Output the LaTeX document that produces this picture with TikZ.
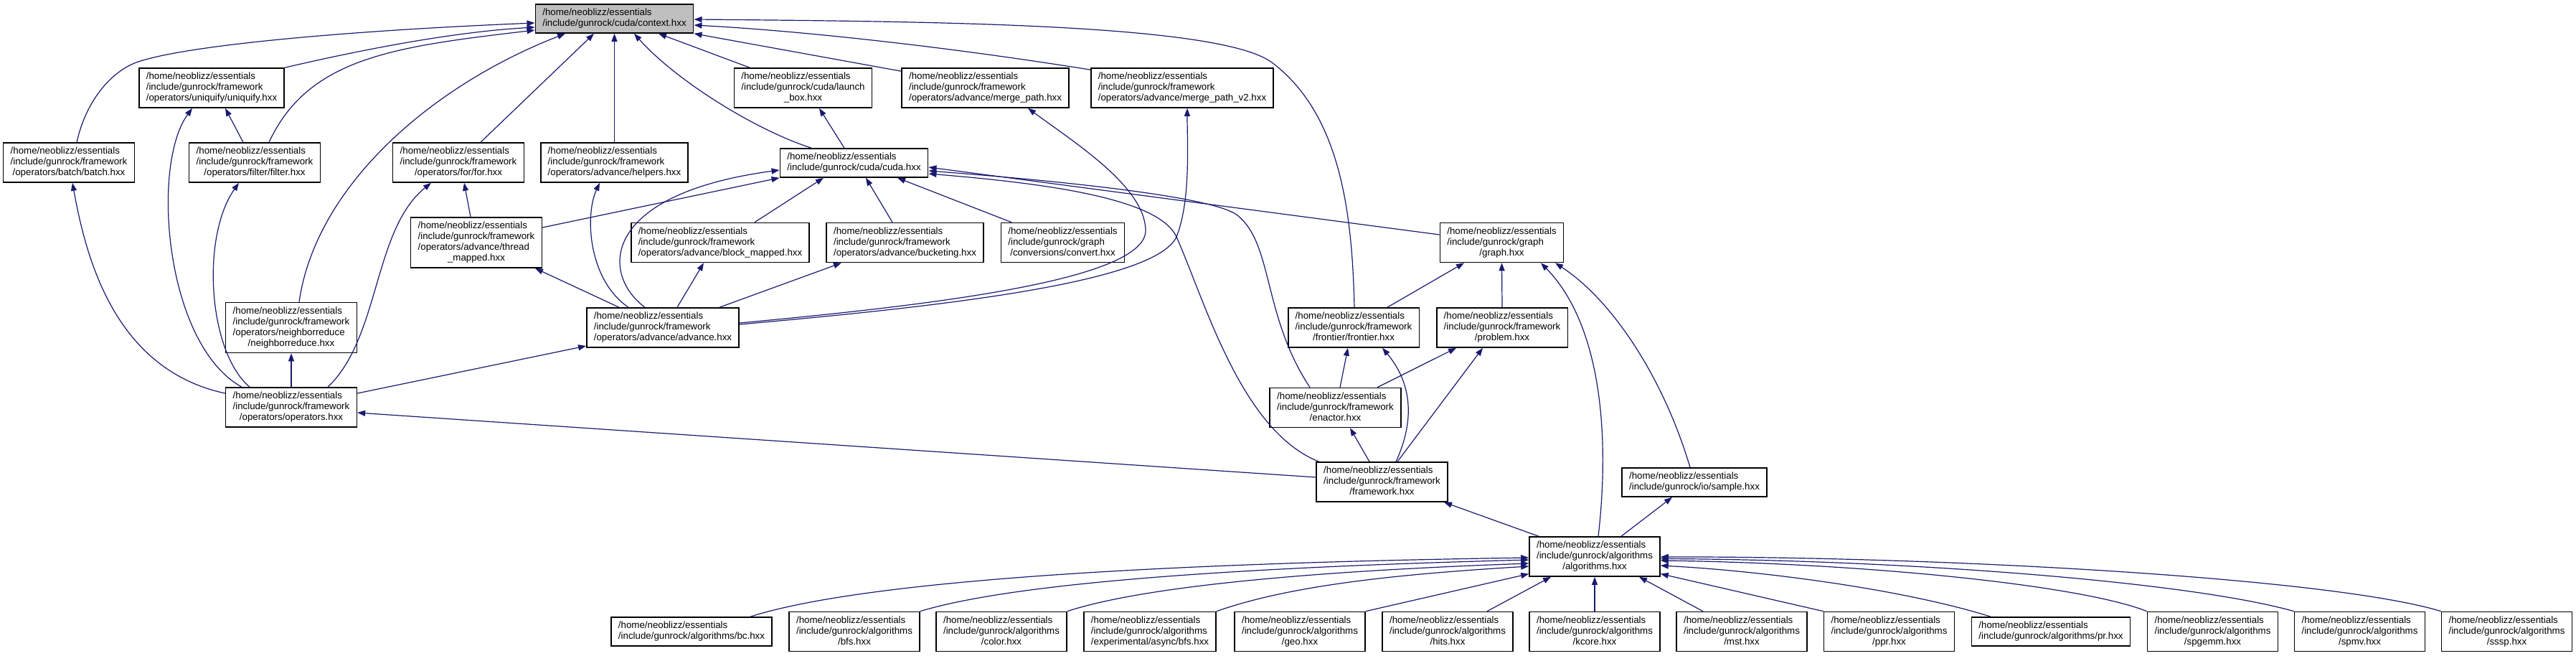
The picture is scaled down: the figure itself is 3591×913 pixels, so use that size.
\documentclass[tikz,border=0pt]{standalone}
\usepackage{fontspec}
\setmainfont{Liberation Sans}
\usetikzlibrary{arrows.meta}
\definecolor{edgeblue}{HTML}{191970}
\definecolor{rootgray}{HTML}{BFBFBF}
\newcommand{\lbl}[2]{\begin{tabular}{@{}l@{}}#1\\\multicolumn{1}{@{}c@{}}{#2}\end{tabular}}
\newcommand{\pHome}{/home/neoblizz/essentials}
\newcommand{\pFw}{/include/gunrock/framework}
\newcommand{\pAlg}{/include/gunrock/algorithms}
\tikzset{
  box/.style={draw=black, line width=1.6pt, fill=white, inner xsep=10pt, inner ysep=5pt,
    font=\fontsize{13.3}{15}\selectfont, anchor=center},
  rootbox/.style={box, fill=rootgray},
  edge/.style={draw=edgeblue, line width=1.2pt, -{Triangle[length=11pt,width=8pt]}}
}
\begin{document}
\begin{tikzpicture}[x=1pt,y=-1pt]
\useasboundingbox (0,0) rectangle (3591,913);
% nodes
\node[rootbox] (context) at (856.5,26) {\lbl{\pHome}{/include/gunrock/cuda/context.hxx}};
\node[box] (uniquify) at (295,122.5) {\lbl{\pHome\\\pFw}{/operators/uniquify/uniquify.hxx}};
\node[box] (batch) at (96,226.5) {\lbl{\pHome\\\pFw}{/operators/batch/batch.hxx}};
\node[box] (filter) at (355,226.5) {\lbl{\pHome\\\pFw}{/operators/filter/filter.hxx}};
\node[box] (forop) at (639,226.5) {\lbl{\pHome\\\pFw}{/operators/for/for.hxx}};
\node[box] (helpers) at (856.5,226.5) {\lbl{\pHome\\\pFw}{/operators/advance/helpers.hxx}};
\node[box] (launch) at (1119.5,122.5) {\lbl{\pHome\\/include/gunrock/cuda/launch}{\_box.hxx}};
\node[box] (mergepath) at (1373.5,122.5) {\lbl{\pHome\\\pFw}{/operators/advance/merge\_path.hxx}};
\node[box] (mergepathtwo) at (1648,122.5) {\lbl{\pHome\\\pFw}{/operators/advance/merge\_path\_v2.hxx}};
\node[box] (cuda) at (1190.5,227) {\lbl{\pHome}{/include/gunrock/cuda/cuda.hxx}};
\node[box] (threadmapped) at (664,338) {\lbl{\pHome\\\pFw\\/operators/advance/thread}{\_mapped.hxx}};
\node[box] (blockmapped) at (1004,338) {\lbl{\pHome\\\pFw}{/operators/advance/block\_mapped.hxx}};
\node[box] (bucketing) at (1261.5,338) {\lbl{\pHome\\\pFw}{/operators/advance/bucketing.hxx}};
\node[box] (convert) at (1481.5,338) {\lbl{\pHome\\/include/gunrock/graph}{/conversions/convert.hxx}};
\node[box] (graph) at (2093.5,338) {\lbl{\pHome\\/include/gunrock/graph}{/graph.hxx}};
\node[box] (neighborreduce) at (406,456.5) {\lbl{\pHome\\\pFw\\/operators/neighborreduce}{/neighborreduce.hxx}};
\node[box] (advance) at (924,456.5) {\lbl{\pHome\\\pFw}{/operators/advance/advance.hxx}};
\node[box] (frontier) at (1887,456.5) {\lbl{\pHome\\\pFw}{/frontier/frontier.hxx}};
\node[box] (problem) at (2094,456.5) {\lbl{\pHome\\\pFw}{/problem.hxx}};
\node[box] (operators) at (406,567.5) {\lbl{\pHome\\\pFw}{/operators/operators.hxx}};
\node[box] (enactor) at (1861.5,568) {\lbl{\pHome\\\pFw}{/enactor.hxx}};
\node[box] (framework) at (1926.5,671.5) {\lbl{\pHome\\\pFw}{/framework.hxx}};
\node[box] (sample) at (2362,672) {\lbl{\pHome}{/include/gunrock/io/sample.hxx}};
\node[box] (algorithms) at (2223,775.5) {\lbl{\pHome\\\pAlg}{/algorithms.hxx}};
\node[box] (abc) at (964,880) {\lbl{\pHome}{/include/gunrock/algorithms/bc.hxx}};
\node[box] (abfs) at (1191,880) {\lbl{\pHome\\\pAlg}{/bfs.hxx}};
\node[box] (acolor) at (1396,880) {\lbl{\pHome\\\pAlg}{/color.hxx}};
\node[box] (aasync) at (1603,880) {\lbl{\pHome\\\pAlg}{/experimental/async/bfs.hxx}};
\node[box] (ageo) at (1812,880) {\lbl{\pHome\\\pAlg}{/geo.hxx}};
\node[box] (ahits) at (2018,880) {\lbl{\pHome\\\pAlg}{/hits.hxx}};
\node[box] (akcore) at (2223,880) {\lbl{\pHome\\\pAlg}{/kcore.hxx}};
\node[box] (amst) at (2428,880) {\lbl{\pHome\\\pAlg}{/mst.hxx}};
\node[box] (appr) at (2633.5,880) {\lbl{\pHome\\\pAlg}{/ppr.hxx}};
\node[box] (apr) at (2859,880) {\lbl{\pHome}{/include/gunrock/algorithms/pr.hxx}};
\node[box] (aspgemm) at (3084.5,880) {\lbl{\pHome\\\pAlg}{/spgemm.hxx}};
\node[box] (aspmv) at (3289.5,880) {\lbl{\pHome\\\pAlg}{/spmv.hxx}};
\node[box] (asssp) at (3494.5,880) {\lbl{\pHome\\\pAlg}{/sssp.hxx}};
% edges to context
\draw[edge] ([xshift=11pt]batch.north) .. controls (120,140) and (155,100) .. (190,87) .. controls (260,62) and (500,42) .. ([yshift=-6pt]context.west);
\draw[edge] (uniquify.north east) .. controls (480,75) and (620,45) .. ([yshift=-12pt]context.west);
\draw[edge] ([xshift=20pt]filter.north) .. controls (430,80) and (550,65) .. ([yshift=-16pt]context.west);
\draw[edge] ([xshift=11pt]neighborreduce.north) .. controls (440,260) and (600,120) .. ([xshift=-68.5pt]context.south);
\draw[edge] ([xshift=31pt]forop.north) -- ([xshift=-28.5pt]context.south);
\draw[edge] (helpers.north) -- (context.south);
\draw[edge] ([xshift=-59.5pt]cuda.north) .. controls (1050,180) and (940,110) .. ([xshift=27.5pt]context.south);
\draw[edge] ([xshift=-74.5pt]launch.north) -- ([xshift=61.5pt]context.south);
\draw[edge] ([yshift=-5pt]mergepath.north west) -- (context.south east);
\draw[edge] ([yshift=-3pt]mergepathtwo.north west) .. controls (1300,62) and (1100,42) .. ([yshift=-9pt]context.east);
\draw[edge] ([xshift=1pt]frontier.north) .. controls (1885,300) and (1870,160) .. (1773,87) .. controls (1700,33) and (1300,30) .. ([yshift=-1pt]context.east);
% uniquify, batch, filter, for, helpers
\draw[edge] ([xshift=-16pt]filter.north) -- ([xshift=19pt]uniquify.south);
\draw[edge] ([xshift=-69pt]operators.north) .. controls (230,480) and (210,230) .. ([xshift=-27pt]uniquify.south);
\draw[edge] ([yshift=19.5pt]operators.west) .. controls (160,515) and (120,360) .. ([xshift=5pt]batch.south);
\draw[edge] ([xshift=-58pt]operators.north) .. controls (290,490) and (280,330) .. ([xshift=-22pt]filter.south);
\draw[edge] ([xshift=51pt]operators.north) .. controls (530,470) and (520,320) .. ([xshift=-38pt]forop.south);
\draw[edge] ([xshift=-8pt]threadmapped.north) -- ([xshift=8pt]forop.south);
\draw[edge] ([xshift=-48pt]advance.north) .. controls (820,390) and (815,300) .. ([xshift=-20.5pt]helpers.south);
% operators
\draw[edge] (operators.north) -- (neighborreduce.south);
\draw[edge] ([yshift=19.5pt]operators.east) -- ([yshift=-25.5pt]advance.west);
\draw[edge] ([yshift=6.5pt]framework.west) -- ([yshift=-7.5pt]operators.east);
% cuda
\draw[edge] ([yshift=21pt]threadmapped.east) -- (cuda.south west);
\draw[edge] ([xshift=-25pt]advance.north) .. controls (835,380) and (840,270) .. ([yshift=-10pt]cuda.west);
\draw[edge] ([xshift=48pt]blockmapped.north) -- ([xshift=-42.5pt]cuda.south);
\draw[edge] ([xshift=-17.5pt]bucketing.north) -- ([xshift=16.5pt]cuda.south);
\draw[edge] ([xshift=-71.5pt]convert.north) -- ([xshift=60.5pt]cuda.south);
\draw[edge] ([yshift=11pt]graph.west) -- ([yshift=-6pt]cuda.east);
\draw[edge] ([xshift=-35.5pt]enactor.north) .. controls (1760,440) and (1775,340) .. (1725,300) .. controls (1690,272) and (1450,250) .. ([yshift=-11pt]cuda.east);
\draw[edge] ([xshift=-88pt]framework.north) .. controls (1730,600) and (1680,420) .. (1640,330) .. controls (1615,275) and (1450,255) .. ([yshift=-15pt]cuda.east);
\draw[edge] ([xshift=-13.5pt]cuda.north) -- ([xshift=22.5pt]launch.south);
% advance
\draw[edge] ([yshift=6.5pt]advance.east) .. controls (1300,425) and (1600,390) .. (1597,320) .. controls (1595,260) and (1500,200) .. ([xshift=59.5pt]mergepath.south);
\draw[edge] ([yshift=4.5pt]advance.east) .. controls (1300,428) and (1610,395) .. (1640,330) .. controls (1660,280) and (1655,200) .. ([xshift=7pt]mergepathtwo.south);
\draw[edge] ([xshift=-61pt]advance.north) -- ([xshift=82pt]threadmapped.south);
\draw[edge] ([xshift=20pt]advance.north) -- ([xshift=-23pt]blockmapped.south);
\draw[edge] ([xshift=79pt]advance.north) -- ([xshift=-88.5pt]bucketing.south);
% graph
\draw[edge] ([xshift=47pt]frontier.north) -- ([xshift=-52.5pt]graph.south);
\draw[edge] (problem.north) -- (graph.south);
\draw[edge] ([xshift=5pt]algorithms.north) .. controls (2245,600) and (2230,450) .. ([xshift=54.5pt]graph.south);
\draw[edge] ([xshift=-6pt]sample.north) .. controls (2320,530) and (2250,420) .. ([xshift=74.5pt]graph.south);
% frontier, problem, enactor, framework, sample
\draw[edge] ([xshift=6.5pt]enactor.north) -- ([xshift=-8pt]frontier.south);
\draw[edge] ([xshift=19.5pt]framework.north) .. controls (1975,580) and (1965,530) .. ([xshift=40pt]frontier.south);
\draw[edge] ([xshift=58.5pt]enactor.north) -- ([xshift=-64pt]problem.south);
\draw[edge] ([xshift=21.5pt]framework.north) -- ([xshift=-27pt]problem.south);
\draw[edge] ([xshift=-17.5pt]framework.north) -- ([xshift=20.5pt]enactor.south);
\draw[edge] ([xshift=-78pt]algorithms.north) -- ([xshift=86.5pt]framework.south);
\draw[edge] ([xshift=37pt]algorithms.north) -- ([xshift=-31pt]sample.south);
% algorithms
\draw[edge] ([xshift=82pt]abc.north) .. controls (1200,810) and (1600,785) .. ([yshift=-1.5pt]algorithms.west);
\draw[edge] (abfs.north east) .. controls (1420,810) and (1750,790) .. ([yshift=-4.5pt]algorithms.west);
\draw[edge] (acolor.north east) .. controls (1600,815) and (1850,795) .. ([yshift=-9.5pt]algorithms.west);
\draw[edge] (aasync.north east) .. controls (1800,815) and (1950,800) .. ([yshift=-13.5pt]algorithms.west);
\draw[edge] (ageo.north east) -- ([yshift=-24pt]algorithms.west);
\draw[edge] ([xshift=55pt]ahits.north) -- ([xshift=-61pt]algorithms.south);
\draw[edge] (akcore.north) -- (algorithms.south);
\draw[edge] ([xshift=-54pt]amst.north) -- ([xshift=62pt]algorithms.south);
\draw[edge] (appr.north west) -- ([yshift=-24pt]algorithms.east);
\draw[edge] ([xshift=-84pt]apr.north) .. controls (2650,820) and (2450,795) .. ([yshift=-12.5pt]algorithms.east);
\draw[edge] (aspgemm.north west) .. controls (2900,815) and (2600,785) .. ([yshift=-5.5pt]algorithms.east);
\draw[edge] (aspmv.north west) .. controls (3050,810) and (2650,780) .. ([yshift=-3pt]algorithms.east);
\draw[edge] (asssp.north west) .. controls (3250,805) and (2700,775) .. ([yshift=-0.5pt]algorithms.east);
\end{tikzpicture}
\end{document}
